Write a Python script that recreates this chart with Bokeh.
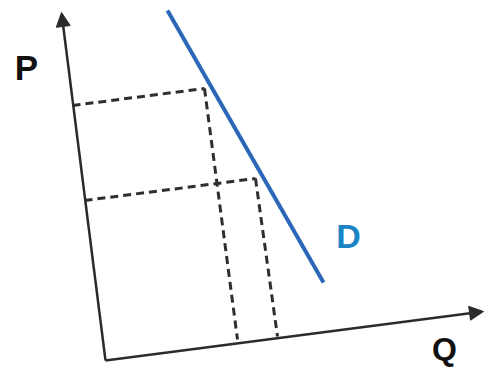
from bokeh.plotting import figure
from bokeh.models import Range1d, Arrow, NormalHead
from bokeh.core.properties import value
from bokeh.embed import file_html
from bokeh.resources import INLINE

# Diagram coordinates (screen-like units, y grows downward)
origin = (105, 360)
p_axis_tip = (61, 12)
q_axis_tip = (483, 311)

demand_x = [167, 323]
demand_y = [10, 282]

# Price levels P1 (high) and P2 (low) and matching quantities
high_h_x = [72, 204]
high_h_y = [105, 88]
high_v_x = [204, 237]
high_v_y = [88, 339]

low_h_x = [84, 255]
low_h_y = [200, 178]
low_v_x = [255, 277]
low_v_y = [178, 336]

labels = ["P", "D", "Q"]
label_x = [26, 348, 444]
label_y = [67, 235, 348]
label_colors = ["#111111", "#1b84c4", "#111111"]
label_sizes = ["35px", "34px", "32px"]

p = figure(width=485, height=369, output_backend="svg", toolbar_location=None,
           x_range=Range1d(0, 485), y_range=Range1d(369, 0),
           min_border=0, outline_line_color=None)
p.axis.visible = False
p.grid.visible = False
p.background_fill_color = "white"

axis_color = "#2b2b2b"
# axes with arrowheads
p.add_layout(Arrow(x_start=origin[0], y_start=origin[1], x_end=p_axis_tip[0], y_end=p_axis_tip[1],
                   line_color=axis_color, line_width=2.5,
                   end=NormalHead(size=14, fill_color=axis_color, line_color=axis_color)))
p.add_layout(Arrow(x_start=origin[0], y_start=origin[1], x_end=q_axis_tip[0], y_end=q_axis_tip[1],
                   line_color=axis_color, line_width=2.5,
                   end=NormalHead(size=14, fill_color=axis_color, line_color=axis_color)))

dash_color = "#2e2e2e"
for xs, ys in [(high_h_x, high_h_y), (high_v_x, high_v_y), (low_h_x, low_h_y), (low_v_x, low_v_y)]:
    p.line(xs, ys, line_color=dash_color, line_width=3, line_dash="8 5")

p.line(demand_x, demand_y, line_color="#2a67b8", line_width=4)

for t, x, y, c, s in zip(labels, label_x, label_y, label_colors, label_sizes):
    p.text(x=[x], y=[y], text=[t], text_color=c,
           text_font=value("Liberation Sans"), text_font_style="bold",
           text_font_size=s, text_align="center", text_baseline="middle")

open("out.html", "w").write(file_html(p, INLINE))
